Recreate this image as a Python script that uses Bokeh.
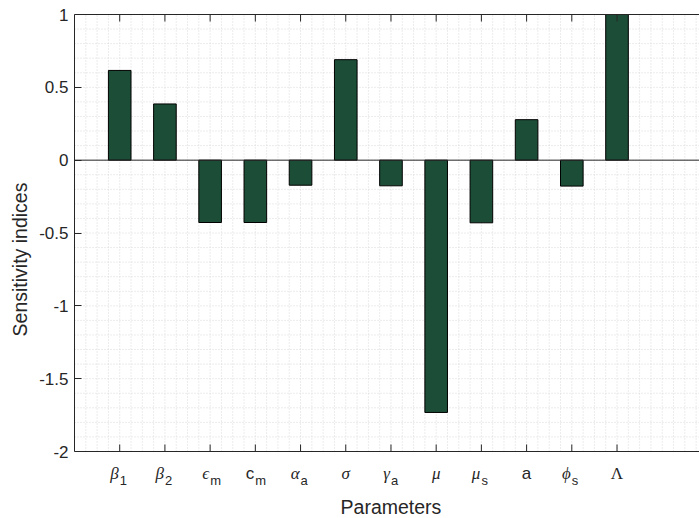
from bokeh.plotting import figure
from bokeh.models import Range1d, FixedTicker, Label
from bokeh.embed import file_html
from bokeh.resources import INLINE

# ---- data ----
param_symbols = ["β", "β", "ϵ", "c", "α", "σ", "γ", "μ", "μ", "a", "ϕ", "Λ"]
param_subscripts = ["1", "2", "m", "m", "a", "", "a", "", "s", "", "s", ""]
sensitivity = [0.616, 0.386, -0.428, -0.428, -0.172, 0.690, -0.176, -1.732, -0.430, 0.278, -0.178, 1.0]
ytick_values = [-2, -1.5, -1, -0.5, 0, 0.5, 1]
ytick_labels = ["-2", "-1.5", "-1", "-0.5", "0", "0.5", "1"]
x_label = "Parameters"
y_label = "Sensitivity indices"

positions = list(range(1, len(sensitivity) + 1))

TXT = "#262626"
SANS = "Liberation Sans"
SERIF = "Liberation Serif"

# ---- layout geometry (pixels) ----
W, H = 699, 518
LEFT, TOP, BOTTOM = 74, 14, 451
Y_MIN, Y_MAX = -2.0, 1.0
X_MIN = 0.0
PX_PER_X = 45.21
py = (BOTTOM - TOP) / (Y_MAX - Y_MIN)          # px per y unit
x_end = X_MIN + (W - LEFT) / PX_PER_X
y_top = Y_MAX + TOP / py
y_bot = Y_MIN - (H - BOTTOM) / py

p = figure(width=W, height=H,
           x_range=Range1d(X_MIN, x_end), y_range=Range1d(y_bot, y_top),
           output_backend="svg", toolbar_location=None,
           x_axis_location=None,
           min_border_left=LEFT, min_border_right=0,
           min_border_top=0, min_border_bottom=0,
           background_fill_color="white", border_fill_color="white")
p.outline_line_color = None
p.xgrid.visible = False
p.ygrid.visible = False

# ---- minor dotted grid inside the axes box ----
gx = [0.25 * i for i in range(1, int(x_end / 0.25) + 1)]
gy = [round(Y_MIN + 0.1 * i, 1) for i in range(1, 30)]
GRID = "#d8d8d8"
p.segment(x0=gx, y0=[Y_MIN] * len(gx), x1=gx, y1=[Y_MAX] * len(gx),
          line_color=GRID, line_dash="1 2", line_width=1)
p.segment(x0=[X_MIN] * len(gy), y0=gy, x1=[x_end] * len(gy), y1=gy,
          line_color=GRID, line_dash="1 2", line_width=1)

# ---- left axis (real axis, bounded to the box) ----
ya = p.yaxis[0]
ya.bounds = (Y_MIN, Y_MAX)
ya.ticker = FixedTicker(ticks=ytick_values)
ya.major_label_overrides = {float(v): s for v, s in zip(ytick_values, ytick_labels)}
ya.major_tick_in = 7
ya.major_tick_out = 0
ya.minor_tick_line_color = None
ya.axis_line_color = TXT
ya.major_tick_line_color = TXT
ya.major_label_text_font = SANS
ya.major_label_text_font_size = "17px"
ya.major_label_text_color = TXT
ya.major_label_standoff = 6
ya.axis_label = y_label
ya.axis_label_text_font = SANS
ya.axis_label_text_font_size = "19.5px"
ya.axis_label_text_font_style = "normal"
ya.axis_label_text_color = TXT
ya.axis_label_standoff = 5

# ---- bars ----
p.vbar(x=positions, top=sensitivity, bottom=0, width=0.5,
       fill_color="#1c4d37", line_color="#000000", line_width=1)

# zero baseline
p.segment(x0=[X_MIN], y0=[0], x1=[x_end], y1=[0], line_color=TXT, line_width=1)

# ---- top and bottom box lines with inward ticks ----
p.segment(x0=[X_MIN, X_MIN], y0=[Y_MIN, Y_MAX], x1=[x_end, x_end], y1=[Y_MIN, Y_MAX],
          line_color=TXT, line_width=1)
tick = 7 / py
n = len(positions)
p.segment(x0=positions, y0=[Y_MIN] * n, x1=positions, y1=[Y_MIN + tick] * n,
          line_color=TXT, line_width=1)
p.segment(x0=positions, y0=[Y_MAX] * n, x1=positions, y1=[Y_MAX - tick] * n,
          line_color=TXT, line_width=1)

# ---- category labels ----
main_y = Y_MIN - 21.5 / py
sub_y = Y_MIN - 29 / py
for x, sym, sub in zip(positions, param_symbols, param_subscripts):
    if sym in "βϵασγμϕ":
        font, style = SERIF, "italic"
    elif sym == "Λ":
        font, style = SERIF, "normal"
    else:
        font, style = SANS, "normal"
    if sub:
        p.add_layout(Label(x=x, y=main_y, text=sym, text_align="right", text_baseline="alphabetic",
                           x_offset=-1, text_font=font, text_font_style=style,
                           text_font_size="17px", text_color=TXT))
        p.add_layout(Label(x=x, y=sub_y, text=sub, text_align="left", text_baseline="alphabetic",
                           x_offset=0, text_font=SANS, text_font_size="13px", text_color=TXT))
    else:
        p.add_layout(Label(x=x, y=main_y, text=sym, text_align="center", text_baseline="alphabetic",
                           text_font=font, text_font_style=style,
                           text_font_size="17px", text_color=TXT))

# ---- x axis title ----
p.add_layout(Label(x=7.0, y=Y_MIN - 55.5 / py, text=x_label, text_align="center",
                   text_baseline="alphabetic",
                   text_font=SANS, text_font_size="19.5px", text_color=TXT))

open("out.html", "w").write(file_html(p, INLINE))
